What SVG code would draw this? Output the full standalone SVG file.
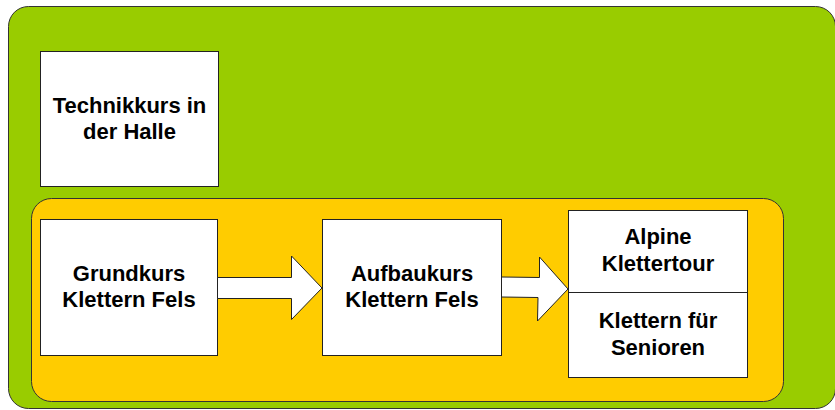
<svg xmlns="http://www.w3.org/2000/svg" width="835" height="410" viewBox="0 0 835 410">
<style>
.box{fill:#ffffff;stroke:#222222;stroke-width:1}
.lbl{font-family:"Liberation Sans",Arial,sans-serif;font-weight:bold;font-size:22px;fill:#000000;text-anchor:middle}
.arr{fill:#ffffff;stroke:#222222;stroke-width:1;stroke-linejoin:miter}
</style>
<rect width="835" height="410" fill="#ffffff"/>
<g id="outer">
<rect x="8.5" y="6.5" width="827" height="402" rx="20" ry="20" fill="#99cc00" stroke="#333333" stroke-width="1"/>
</g>
<g id="inner">
<rect x="31.5" y="198.5" width="752" height="203" rx="20" ry="20" fill="#ffcc00" stroke="#333333" stroke-width="1"/>
</g>
<g id="technikkurs">
<rect class="box" x="40.5" y="51.5" width="178" height="135"/>
<text class="lbl" x="129.5" y="113">Technikkurs in</text>
<text class="lbl" x="129.5" y="139">der Halle</text>
</g>
<g id="grundkurs">
<rect class="box" x="40.5" y="219.5" width="177" height="136"/>
<text class="lbl" x="129" y="281">Grundkurs</text>
<text class="lbl" x="129" y="307">Klettern Fels</text>
</g>
<g id="aufbaukurs">
<rect class="box" x="322.5" y="219.5" width="179" height="136"/>
<text class="lbl" x="412" y="281">Aufbaukurs</text>
<text class="lbl" x="412" y="307">Klettern Fels</text>
</g>
<g id="alpine">
<rect class="box" x="568.5" y="210.5" width="179" height="82"/>
<text class="lbl" x="658" y="244">Alpine</text>
<text class="lbl" x="658" y="271">Klettertour</text>
</g>
<g id="senioren">
<rect class="box" x="568.5" y="292.5" width="179" height="85"/>
<text class="lbl" x="658" y="328">Klettern für</text>
<text class="lbl" x="658" y="355">Senioren</text>
</g>
<g id="connectors">
<polygon class="arr" points="217.5,277.5 291.5,277.5 291.5,256 322,288 291.5,319.5 291.5,298.5 217.5,298.5"/>
<polygon class="arr" points="501.5,277 539.5,277.5 539.5,257 568,289 537.5,321 538,297.5 501.5,297"/>
</g>
</svg>
